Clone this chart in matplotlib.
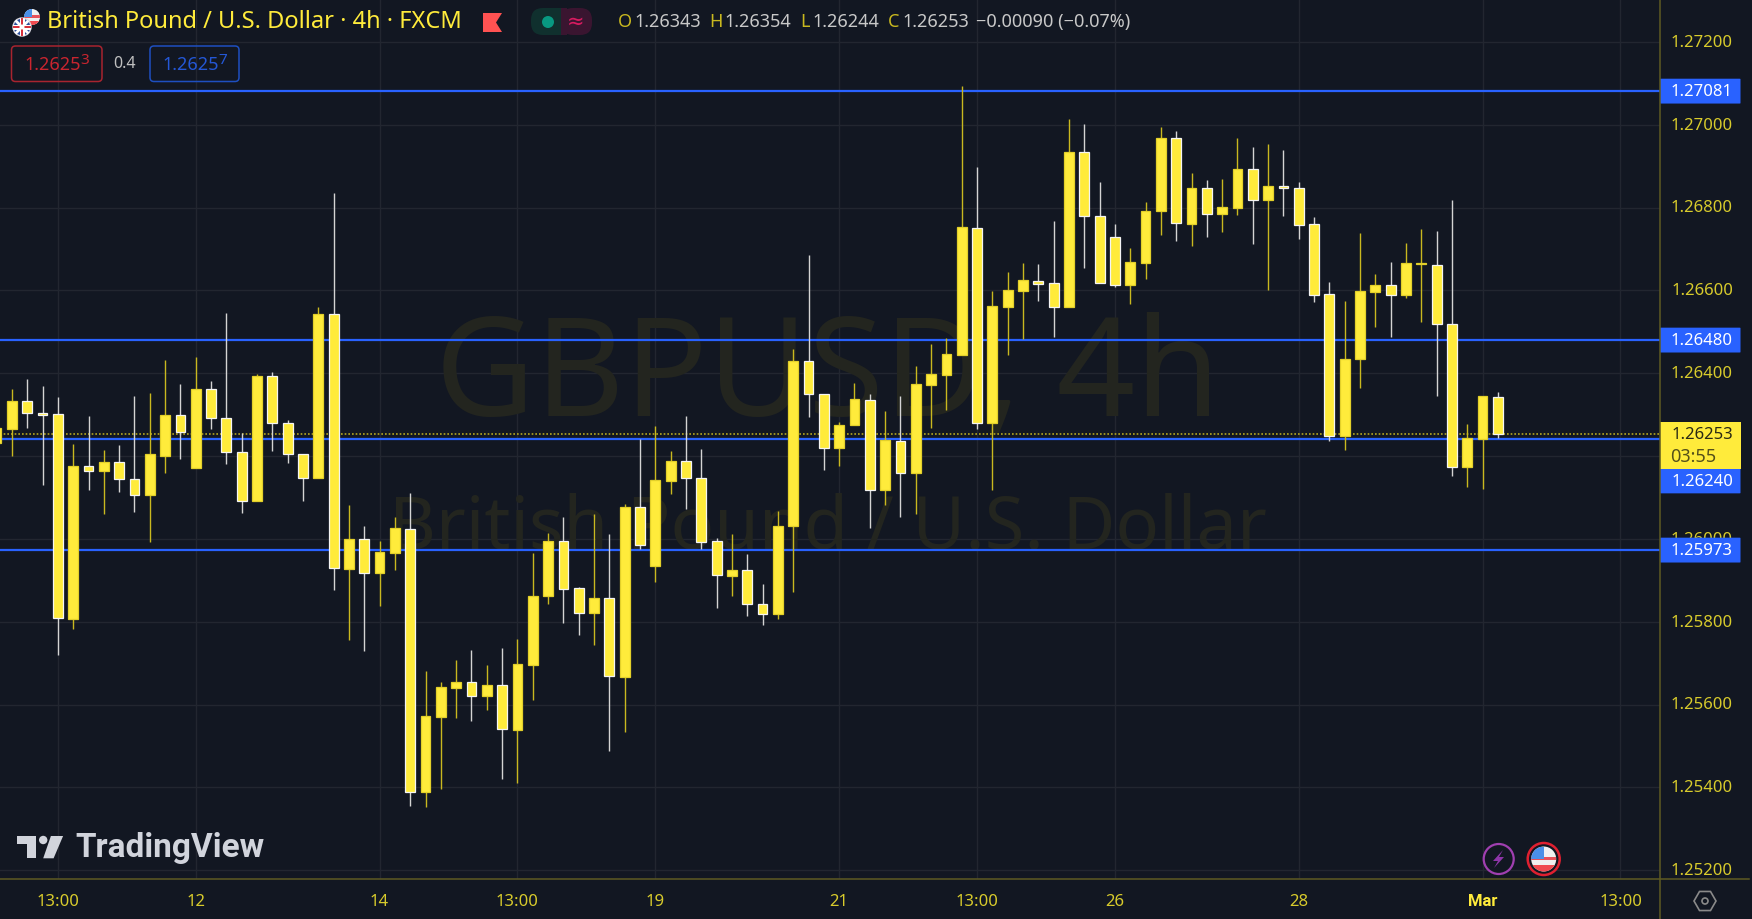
import numpy as np
import matplotlib
matplotlib.use("Agg")
import matplotlib.pyplot as plt
from matplotlib.patches import Circle, Rectangle, Polygon, FancyBboxPatch

# candles (4h), first one is cut off by the left border
opens = [1.26231, 1.26265, 1.26334, 1.26305, 1.26301, 1.25806, 1.26175, 1.26164, 1.26185, 1.26145,
         1.26105, 1.26201, 1.26298, 1.26172, 1.26362, 1.26292, 1.26211, 1.26091, 1.26394, 1.26281,
         1.26205, 1.26146, 1.26542, 1.25928, 1.25999, 1.25917, 1.25966, 1.26025, 1.25389, 1.25571,
         1.25641, 1.25654, 1.25620, 1.25648, 1.25539, 1.25696, 1.25862, 1.25994, 1.25881, 1.25821,
         1.25858, 1.25667, 1.26078, 1.25935, 1.26140, 1.26187, 1.26147, 1.25994, 1.25911, 1.25924,
         1.25842, 1.25818, 1.26030, 1.26430, 1.26351, 1.26219, 1.26274, 1.26336, 1.26117, 1.26237,
         1.26158, 1.26372, 1.26395, 1.26445, 1.26751, 1.26279, 1.26561, 1.26599, 1.26623, 1.26619,
         1.26561, 1.26935, 1.26780, 1.26728, 1.26613, 1.26666, 1.26791, 1.26969, 1.26761, 1.26847,
         1.26784, 1.26799, 1.26894, 1.26817, 1.26853, 1.26847, 1.26760, 1.26592, 1.26248, 1.26434,
         1.26595, 1.26612, 1.26590, 1.26663, 1.26661, 1.26519, 1.26173, 1.26242, 1.26343]
highs = [1.26267, 1.26363, 1.26386, 1.26368, 1.26343, 1.26229, 1.26296, 1.26215, 1.26226, 1.26346,
         1.26352, 1.26433, 1.26375, 1.26438, 1.26381, 1.26546, 1.26255, 1.26398, 1.26404, 1.26288,
         1.26205, 1.26561, 1.26836, 1.26081, 1.26032, 1.25994, 1.26052, 1.26110, 1.25681, 1.25655,
         1.25707, 1.25733, 1.25695, 1.25736, 1.25759, 1.25965, 1.26014, 1.26052, 1.25884, 1.26061,
         1.26011, 1.26084, 1.26241, 1.26273, 1.26212, 1.26296, 1.26218, 1.26003, 1.26012, 1.25963,
         1.25890, 1.26067, 1.26459, 1.26685, 1.26351, 1.26282, 1.26376, 1.26351, 1.26309, 1.26346,
         1.26418, 1.26471, 1.26485, 1.27094, 1.26897, 1.26599, 1.26644, 1.26665, 1.26663, 1.26767,
         1.27013, 1.27002, 1.26862, 1.26760, 1.26703, 1.26813, 1.26994, 1.26984, 1.26883, 1.26866,
         1.26870, 1.26969, 1.26947, 1.26953, 1.26940, 1.26862, 1.26778, 1.26621, 1.26574, 1.26738,
         1.26639, 1.26668, 1.26714, 1.26747, 1.26743, 1.26818, 1.26278, 1.26345, 1.26354]
lows = [1.26231, 1.26200, 1.26267, 1.26129, 1.25719, 1.25783, 1.26117, 1.26059, 1.26113, 1.26064,
        1.25992, 1.26158, 1.26192, 1.26172, 1.26265, 1.26180, 1.26062, 1.26091, 1.26212, 1.26183,
        1.26091, 1.26146, 1.25876, 1.25757, 1.25730, 1.25837, 1.25925, 1.25356, 1.25353, 1.25397,
        1.25568, 1.25560, 1.25586, 1.25420, 1.25411, 1.25611, 1.25844, 1.25797, 1.25768, 1.25745,
        1.25487, 1.25533, 1.25975, 1.25896, 1.26108, 1.26073, 1.25975, 1.25833, 1.25861, 1.25813,
        1.25791, 1.25806, 1.25873, 1.26294, 1.26167, 1.26175, 1.26274, 1.26027, 1.26081, 1.26052,
        1.26059, 1.26267, 1.26311, 1.26445, 1.26265, 1.26117, 1.26445, 1.26483, 1.26575, 1.26488,
        1.26561, 1.26653, 1.26617, 1.26607, 1.26566, 1.26628, 1.26733, 1.26718, 1.26706, 1.26730,
        1.26741, 1.26782, 1.26712, 1.26602, 1.26779, 1.26723, 1.26573, 1.26237, 1.26215, 1.26364,
        1.26511, 1.26488, 1.26582, 1.26523, 1.26346, 1.26152, 1.26125, 1.26120, 1.26244]
closes = [1.26267, 1.26334, 1.26303, 1.26300, 1.25808, 1.26175, 1.26164, 1.26186, 1.26144, 1.26106,
          1.26204, 1.26299, 1.26257, 1.26363, 1.26292, 1.26210, 1.26092, 1.26394, 1.26280, 1.26204,
          1.26147, 1.26543, 1.25929, 1.26000, 1.25917, 1.25968, 1.26026, 1.25389, 1.25573, 1.25643,
          1.25655, 1.25621, 1.25648, 1.25540, 1.25698, 1.25863, 1.25994, 1.25879, 1.25821, 1.25858,
          1.25668, 1.26078, 1.25986, 1.26142, 1.26188, 1.26146, 1.25992, 1.25912, 1.25924, 1.25842,
          1.25818, 1.26032, 1.26430, 1.26349, 1.26219, 1.26276, 1.26337, 1.26117, 1.26238, 1.26158,
          1.26375, 1.26398, 1.26447, 1.26753, 1.26281, 1.26563, 1.26601, 1.26624, 1.26616, 1.26561,
          1.26935, 1.26780, 1.26617, 1.26613, 1.26668, 1.26792, 1.26969, 1.26762, 1.26848, 1.26785,
          1.26801, 1.26894, 1.26817, 1.26853, 1.26846, 1.26759, 1.26590, 1.26249, 1.26435, 1.26598,
          1.26612, 1.26590, 1.26665, 1.26665, 1.26518, 1.26173, 1.26243, 1.26344, 1.26253]

# horizontal levels, price ticks and time ticks
levels = [1.27081, 1.26480, 1.26240, 1.25973]
last_price = 1.26253
price_ticks = [1.27200, 1.27000, 1.26800, 1.26600, 1.26400, 1.26200, 1.26000, 1.25800, 1.25600, 1.25400, 1.25200]
time_idx = [3, 12, 24, 33, 42, 54, 63, 72, 84, 96, 105]
time_labels = ['13:00', '12', '14', '13:00', '19', '21', '13:00', '26', '28', 'Mar', '13:00']

BG = '#121722'
GRID = '#222630'
BLUE = '#2962ff'
YEL = '#ffeb3b'
AXYEL = '#d8cb2c'
OLIVE = '#5e5a22'
WATER = '#23251f'
FONT = 'Noto Sans'
W, H = 1752, 919
plot_r, plot_b = 1660, 879

plt.rcParams['font.family'] = [FONT, 'DejaVu Sans']
fig = plt.figure(figsize=(W / 100, H / 100), dpi=100, facecolor=BG)

# main chart
ax = fig.add_axes([0, (H - plot_b) / H, plot_r / W, plot_b / H], facecolor=BG)
xs = np.arange(-1, len(opens) - 1)
ax.set_xlim(-0.777, 107.58)
ax.set_ylim(1.25179, 1.27301)
for s in ax.spines.values():
    s.set_visible(False)
ax.set_xticks(time_idx, time_labels)
ax.set_yticks(price_ticks)
ax.set_axisbelow(True)
ax.grid(color=GRID, lw=1)
ax.tick_params(axis='y', length=0, labelleft=False)
ax.tick_params(axis='x', length=0, pad=11, labelsize=12, labelcolor=AXYEL)
mar = ax.get_xticklabels()[9]
mar.set_color(YEL)
mar.set_family('Roboto')
mar.set_fontweight('bold')

# watermark
ax.text(0.4985, 0.5675, 'GBPUSD, 4h', transform=ax.transAxes, fontsize=99, color=WATER, ha='center', va='center', zorder=1)
ax.text(0.4985, 0.398, 'British Pound / U.S. Dollar', transform=ax.transAxes, fontsize=52, color=WATER, ha='center', va='center', zorder=1)

for lv in levels:
    ax.axhline(lv, color=BLUE, lw=1.6, zorder=2)
ax.axhline(last_price, color='#b5a61f', lw=1.2, ls=(0, (1, 1.2)), zorder=2)

# candles: white outline falling, yellow outline rising
for x, o, h, l, c in zip(xs, opens, highs, lows, closes):
    up = c >= o
    wick = '#c9b81f' if up else '#d4d4d4'
    edge = '#e3d02a' if up else '#f4f4f4'
    ax.vlines(x, l, h, color=wick, lw=1.0, zorder=3)
    ax.bar(x, abs(c - o), bottom=min(o, c), width=0.64, color=YEL, edgecolor=edge, lw=0.9, zorder=4)

# price scale on the right
rax = fig.add_axes([plot_r / W, (H - plot_b) / H, (W - plot_r) / W, plot_b / H], facecolor=BG)
rax.set_xlim(0, W - plot_r)
rax.set_ylim(ax.get_ylim())
rax.axis('off')
for p in price_ticks:
    # 1.26200 sits under the yellow last price box in the reference
    if p == 1.26200:
        continue
    rax.text(73, p - 0.00002, '%.5f' % p, color=AXYEL, fontsize=12, ha='right', va='center', zorder=1)
for lv in levels:
    pos = lv if lv != 1.26240 else 1.26140
    rax.add_patch(FancyBboxPatch((0, pos - 0.0003), 80.5, 0.0006, boxstyle='round,pad=0,rounding_size=1', mutation_aspect=1e-5, fc=BLUE, ec='none', zorder=2))
    rax.text(73, pos - 0.00002, '%.5f' % lv, color='white', fontsize=12, ha='right', va='center', zorder=3)
rax.add_patch(Rectangle((0, 1.26169), 80.5, 0.00113, fc=YEL, ec='none', zorder=2))
rax.text(73, 1.26251, '%.5f' % last_price, color='#2a2a14', fontsize=12, ha='right', va='center', zorder=3)
rax.text(10.5, 1.26198, '03:55', color='#55501a', fontsize=13, ha='left', va='center', zorder=3)

# everything else is screen furniture, in pixels
ov = fig.add_axes([0, 0, 1, 1], facecolor='none')
ov.set_xlim(0, W)
ov.set_ylim(H, 0)
ov.axis('off')
ov.plot([plot_r, plot_r], [0, H], color=OLIVE, lw=1.1)
ov.plot([0, W - 3], [plot_b, plot_b], color=OLIVE, lw=1.1)


def clipped(shape, circle):
    ov.add_patch(shape)
    shape.set_clip_path(circle)


def uk_flag(cx, cy, r):
    c = Circle((cx, cy), r, fc='#2b4f9e', ec='#d8d8e0', lw=1)
    ov.add_patch(c)
    for a in [(-1, -1, 1, 1), (-1, 1, 1, -1)]:
        line, = ov.plot([cx + a[0] * r, cx + a[2] * r], [cy + a[1] * r, cy + a[3] * r], color='white', lw=2)
        line.set_clip_path(c)
    clipped(Rectangle((cx - r, cy - 2.5), 2 * r, 5, fc='white', ec='none'), c)
    clipped(Rectangle((cx - 2.5, cy - r), 5, 2 * r, fc='white', ec='none'), c)
    clipped(Rectangle((cx - r, cy - 1.2), 2 * r, 2.4, fc='#d8313c', ec='none'), c)
    clipped(Rectangle((cx - 1.2, cy - r), 2.4, 2 * r, fc='#d8313c', ec='none'), c)


def us_flag(cx, cy, r):
    c = Circle((cx, cy), r, fc='#f0f0f0', ec='none')
    ov.add_patch(c)
    clipped(Rectangle((cx - r, cy - 2), 2 * r, 3, fc='#e8525a', ec='none'), c)
    clipped(Rectangle((cx - r, cy + r * 0.45), 2 * r, r, fc='#f04a50', ec='none'), c)
    clipped(Rectangle((cx - r, cy - r), r, r, fc='#4a90e8', ec='none'), c)


# header
us_flag(32, 17, 8)
uk_flag(22, 27, 9)
ov.text(47, 22, 'British Pound / U.S. Dollar · 4h · FXCM', color=YEL, fontsize=17, va='center', ha='left')
ov.add_patch(Polygon([(483, 13), (502, 13), (496, 22.5), (502, 32), (483, 32)], fc='#ff5252', ec='none'))
ov.add_patch(FancyBboxPatch((531, 8), 30, 27, boxstyle='round,pad=0,rounding_size=12', fc='#10302e', ec='none'))
ov.add_patch(FancyBboxPatch((561, 8), 31, 27, boxstyle='round,pad=0,rounding_size=12', fc='#3a1530', ec='none'))
ov.add_patch(Rectangle((555, 8), 12, 27, fc='#3a1530', ec='none'))
ov.add_patch(Rectangle((549, 8), 12, 27, fc='#10302e', ec='none'))
ov.add_patch(Circle((548, 22), 6, fc='#089981', ec='none'))
ov.text(576, 22, '≈', color='#d81b60', fontsize=15, ha='center', va='center', family=['DejaVu Sans'])

ohlc = [(618, 'O', 634, '1.26343'), (709, 'H', 724, '1.26354'), (800, 'L', 812, '1.26244'), (888, 'C', 902, '1.26253')]
for lx, letter, vx, val in ohlc:
    ov.text(lx, 22, letter, color='#c9b81f', fontsize=13, va='center')
    ov.text(vx, 22, val, color='#c8c8c8', fontsize=13, va='center')
ov.text(976, 22, '\u22120.00090 (\u22120.07%)', color='#c8c8c8', fontsize=13, va='center')

# bid / ask boxes
ov.add_patch(FancyBboxPatch((11.5, 46), 90.5, 35.5, boxstyle='round,pad=0,rounding_size=4', fc='none', ec='#a8242f', lw=1.1))
ov.text(24, 65, '1.2625', color='#c9252f', fontsize=13, va='center')
ov.text(80, 61, '3', color='#c9252f', fontsize=11, va='center')
ov.text(113, 64, '0.4', color='#c0c0c0', fontsize=11.5, va='center')
ov.add_patch(FancyBboxPatch((150, 46), 89, 35.5, boxstyle='round,pad=0,rounding_size=4', fc='none', ec='#1e4fc0', lw=1.1))
ov.text(162, 65, '1.2625', color='#2457d6', fontsize=13, va='center')
ov.text(218, 61, '7', color='#2457d6', fontsize=11, va='center')

# TradingView logo
LOGO = '#d1d4dc'
ov.add_patch(Polygon([(17.2, 836), (36.4, 836), (36.4, 858.3), (26.8, 858.3), (26.8, 843.5), (17.2, 843.5)], fc=LOGO, ec='none'))
ov.add_patch(Circle((43.2, 840), 4.2, fc=LOGO, ec='none'))
ov.add_patch(Polygon([(50.9, 836), (63.1, 836), (53.6, 858.3), (43.2, 858.3)], fc=LOGO, ec='none'))
ov.text(75, 848, 'TradingView', color=LOGO, fontsize=24, family='Roboto', fontweight='bold', va='center', ha='left')

# event icons and settings
ov.add_patch(Circle((1498.7, 859), 15, fc=BG, ec='#a03fb0', lw=1.6))
ov.add_patch(Polygon([(1503, 850), (1493, 861), (1498, 861), (1494, 868), (1504, 857), (1499, 857)], fc='#8e35a8', ec='none'))
ov.add_patch(Circle((1543.7, 859), 16, fc=BG, ec='#e02030', lw=1.8))
us_flag(1543.7, 859, 12.5)
angles = np.deg2rad(np.arange(0, 360, 60))
ov.add_patch(Polygon(np.column_stack([1705 + 11 * np.cos(angles), 901 + 11 * np.sin(angles)]), fc='none', ec='#8a8a8a', lw=1.2))
ov.add_patch(Circle((1705, 901), 3, fc='none', ec='#8a8a8a', lw=1.2))

fig.savefig('out.png', dpi=100, facecolor=BG)
